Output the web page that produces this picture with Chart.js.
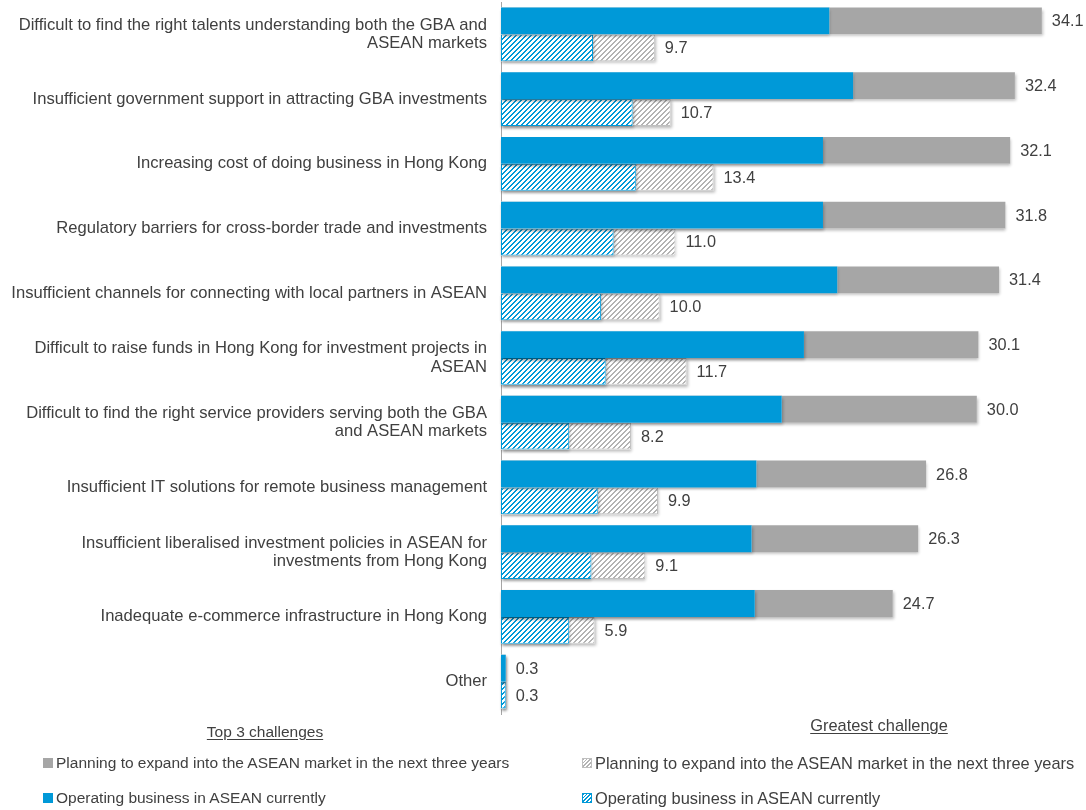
<!DOCTYPE html>
<html>
<head>
<meta charset="utf-8">
<script src="https://cdn.jsdelivr.net/npm/chart.js@4.4.0/dist/chart.umd.min.js"></script>
<style>
html,body{margin:0;padding:0;background:#fff;}
#wrap{position:relative;width:1086px;height:810px;font-family:"Liberation Sans",Arial,sans-serif;color:#404040;overflow:hidden;}
#c{position:absolute;left:0;top:0;}
.hdr{position:absolute;white-space:nowrap;text-decoration:underline;text-underline-offset:2px;line-height:20px;transform:translateX(-50%);}
.item{position:absolute;white-space:nowrap;line-height:20px;display:flex;align-items:center;}
.sw{display:inline-block;width:10px;height:10px;margin-right:3px;box-sizing:border-box;}
</style>
</head>
<body>
<div id="wrap">
  <canvas id="c" width="1086" height="810"></canvas>
  <div class="hdr" style="left:265px;top:722px;font-size:15.5px;">Top 3 challenges</div>
  <div class="hdr" style="left:879px;top:715px;font-size:16.4px;">Greatest challenge</div>
  <div class="item" style="left:43px;top:753px;font-size:15.5px;"><span class="sw" style="background:#a6a6a6;"></span><span id="l1"></span></div>
  <div class="item" style="left:43px;top:788px;font-size:15.5px;"><span class="sw" style="background:#0099d8;"></span><span id="l2"></span></div>
  <div class="item" style="left:582px;top:753px;font-size:16.4px;"><span class="sw" style="border:1px solid #bfbfbf;background:repeating-linear-gradient(-45deg,#b3b3b3 0 1.2px,#fff 1.2px 2.6px);"></span><span id="r1"></span></div>
  <div class="item" style="left:582px;top:788px;font-size:16.4px;"><span class="sw" style="border:1px solid #0099d8;background:repeating-linear-gradient(-45deg,#0099d8 0 1.2px,#fff 1.2px 2.6px);"></span><span id="r2"></span></div>
</div>
<script>
// ---- Data ----
const categories = [
  ["Difficult to find the right talents understanding both the GBA and", "ASEAN markets"],
  "Insufficient government support in attracting GBA investments",
  "Increasing cost of doing business in Hong Kong",
  "Regulatory barriers for cross-border trade and investments",
  "Insufficient channels for connecting with local partners in ASEAN",
  ["Difficult to raise funds in Hong Kong for investment projects in", "ASEAN"],
  ["Difficult to find the right service providers serving both the GBA", "and ASEAN markets"],
  "Insufficient IT solutions for remote business management",
  ["Insufficient liberalised investment policies in ASEAN for", "investments from Hong Kong"],
  "Inadequate e-commerce infrastructure in Hong Kong",
  "Other"
];
const top3Planning      = [34.1, 32.4, 32.1, 31.8, 31.4, 30.1, 30.0, 26.8, 26.3, 24.7, 0.3];
const top3Operating     = [20.7, 22.2, 20.3, 20.3, 21.2, 19.1, 17.7, 16.1, 15.8, 16.0, 0.3];
const greatestPlanning  = [9.7, 10.7, 13.4, 11.0, 10.0, 11.7, 8.2, 9.9, 9.1, 5.9, 0.3];
const greatestOperating = [5.8, 8.3, 8.5, 7.1, 6.3, 6.6, 4.3, 6.1, 5.7, 4.3, 0.3];
const groupTitles = ["Top 3 challenges", "Greatest challenge"];
const seriesNames = ["Planning to expand into the ASEAN market in the next three years", "Operating business in ASEAN currently"];

document.getElementById('l1').textContent = seriesNames[0];
document.getElementById('l2').textContent = seriesNames[1];
document.getElementById('r1').textContent = seriesNames[0];
document.getElementById('r2').textContent = seriesNames[1];

const BLUE = '#0099d8', GRAY = '#a6a6a6', TEXT = '#404040';
const FONT = '"Liberation Sans", Arial, sans-serif';

const canvas = document.getElementById('c');
const mainCtx = canvas.getContext('2d');
function hatch(color) {
  const s = 5;
  const c = document.createElement('canvas');
  c.width = s; c.height = s;
  const g = c.getContext('2d');
  g.fillStyle = '#fff';
  g.fillRect(0, 0, s, s);
  g.fillStyle = color;
  for (let x = 0; x < s; x++) {
    for (let y = 0; y < s; y++) {
      if ((x + y) % s < 2) g.fillRect(x, y, 1, 1);
    }
  }
  return mainCtx.createPattern(c, 'repeat');
}
const blueHatch = hatch(BLUE);
const grayHatch = hatch('#b3b3b3');

const shadowPlugin = {
  id: 'barShadow',
  beforeDatasetDraw(chart, args) {
    const ctx = chart.ctx;
    const meta = args.meta;
    ctx.save();
    ctx.shadowColor = 'rgba(0,0,0,0.28)';
    ctx.shadowBlur = 3;
    ctx.shadowOffsetX = 1;
    ctx.shadowOffsetY = 2;
    ctx.fillStyle = '#ffffff';
    meta.data.forEach(bar => {
      const p = bar.getProps(['x', 'y', 'base', 'height'], true);
      const l = Math.min(p.x, p.base), w = Math.abs(p.x - p.base);
      ctx.fillRect(l, p.y - p.height / 2, w, p.height);
    });
    ctx.restore();
  }
};

const labelPlugin = {
  id: 'valueLabels',
  afterDatasetsDraw(chart) {
    const ctx = chart.ctx;
    ctx.save();
    ctx.font = '16.3px ' + FONT;
    ctx.fillStyle = TEXT;
    ctx.textAlign = 'left';
    ctx.textBaseline = 'middle';
    [1, 3].forEach(di => {
      const meta = chart.getDatasetMeta(di);
      const vals = chart.data.datasets[di].data;
      meta.data.forEach((bar, i) => {
        const p = bar.getProps(['x', 'y'], true);
        ctx.fillText(vals[i].toFixed(1), p.x + 10, p.y + 1);
      });
    });
    ctx.restore();
  }
};

new Chart(canvas, {
  type: 'bar',
  data: {
    labels: categories,
    datasets: [
      { label: seriesNames[1] + ' (' + groupTitles[0] + ')', data: top3Operating, stack: 'top3', backgroundColor: BLUE, borderWidth: 0 },
      { label: seriesNames[0] + ' (' + groupTitles[0] + ')', data: top3Planning, stack: 'top3', backgroundColor: GRAY, borderWidth: 0 },
      { label: seriesNames[1] + ' (' + groupTitles[1] + ')', data: greatestOperating, stack: 'greatest', backgroundColor: blueHatch, borderColor: BLUE, borderWidth: 1, borderSkipped: false },
      { label: seriesNames[0] + ' (' + groupTitles[1] + ')', data: greatestPlanning, stack: 'greatest', backgroundColor: grayHatch, borderColor: '#bfbfbf', borderWidth: 1, borderSkipped: false }
    ]
  },
  options: {
    indexAxis: 'y',
    responsive: false,
    animation: false,
    events: [],
    datasets: { bar: { categoryPercentage: 0.83, barPercentage: 1.0 } },
    layout: { padding: { top: 2, right: 14, bottom: 96, left: 0 } },
    plugins: { legend: { display: false }, tooltip: { enabled: false } },
    scales: {
      x: { stacked: false, display: false, min: 0, max: 36 },
      y: {
        stacked: true,
        grid: { display: false, drawTicks: false },
        border: { display: true, color: '#a6a6a6', width: 1 },
        ticks: { padding: 14, color: TEXT, autoSkip: false, font: { family: FONT, size: 16.6, lineHeight: 1.1 } },
        afterFit(scale) { scale.width = 501; scale.paddingTop = 0; scale.paddingBottom = 0; }
      }
    }
  },
  plugins: [shadowPlugin, labelPlugin]
});
</script>
</body>
</html>
